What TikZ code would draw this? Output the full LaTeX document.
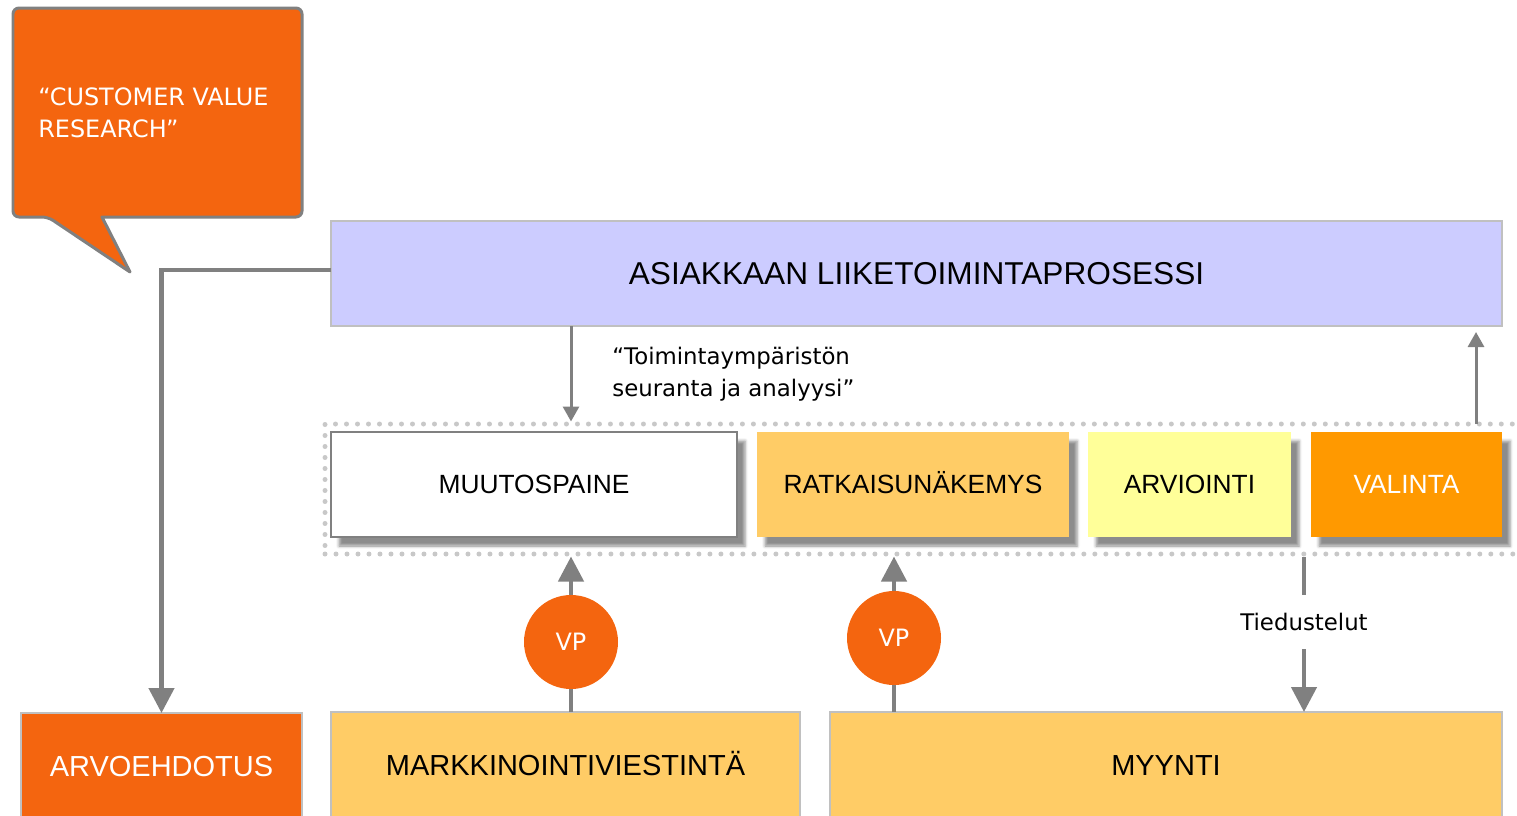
\documentclass[tikz,border=0pt]{standalone}
\usepackage{fontspec}
\setmainfont{Liberation Sans}
\newfontfamily\tahoma{DejaVu Sans}
\usetikzlibrary{arrows.meta,shadows.blur,positioning}

\definecolor{vporange}{HTML}{F4650F}
\definecolor{lavender}{HTML}{CCCCFF}
\definecolor{gold}{HTML}{FFCC66}
\definecolor{paleyellow}{HTML}{FFFF99}
\definecolor{amber}{HTML}{FF9900}
\definecolor{linegray}{HTML}{808080}
\definecolor{edgegray}{HTML}{C0C0C0}
\definecolor{dotgray}{HTML}{C8C8C8}

\def\px{0.02cm}
\def\boxh{105}

\begin{document}
\begin{tikzpicture}[
    x=\px, y=-\px,
    lane/.style={rectangle,draw=edgegray,line width=0.04cm,inner sep=0pt,outer sep=0pt,
                 minimum height=\boxh*\px,text height=10.8pt,text depth=0pt,
                 font=\fontsize{15}{18}\selectfont},
    stage/.style={lane,blur shadow={shadow xshift=0.16cm,shadow yshift=-0.18cm,
                 shadow blur radius=0.06cm,shadow opacity=45}},
    unit/.style={lane,minimum height=106*\px,text height=11.9pt,
                 font=\fontsize{16.5}{20}\selectfont},
    frame/.style={draw=dotgray,line width=0.1cm,dash pattern=on 0pt off 0.22cm,
                  line cap=round,inner sep=0pt},
    vp/.style={circle,fill=vporange,minimum size=94*\px,inner sep=0pt,text=white,
               font=\tahoma\fontsize{13.6}{16}\selectfont},
    note/.style={inner sep=0pt,align=left,font=\tahoma\fontsize{13}{18}\selectfont},
    bubble/.style={fill=vporange,draw=linegray,line width=0.06cm,line join=round},
    conn/.style={draw=linegray,line width=0.09cm},
    thinconn/.style={draw=linegray,line width=0.06cm},
    bigtip/.style={-{Triangle[width=0.5cm,length=0.5cm]}},
    smalltip/.style={-{Triangle[width=0.32cm,length=0.3cm]}},
]
\useasboundingbox (0,0) rectangle (1517,815);

% speech bubble
\draw[bubble] (48,217) -- (130,272) -- (102,217) [rounded corners=0.12cm]
              -- (302,217) -- (302,8) -- (13,8) -- (13,217) -- cycle;
\node[note,anchor=west,text=white,font=\tahoma\fontsize{13.6}{18}\selectfont]
    (cvr) at (38,113) {“CUSTOMER VALUE\\RESEARCH”};

% customer process
\node[lane,fill=lavender,minimum width=1171*\px,text height=12.9pt,
      font=\fontsize{18}{22}\selectfont]
    (asiakas) at (916.5,273.5) {ASIAKKAAN LIIKETOIMINTAPROSESSI};

% buying stages
\node[frame,minimum width=1205*\px,minimum height=130*\px] (frame) at (927.5,489) {};
\node[stage,fill=white,draw=linegray,minimum width=406*\px] (muutos) at (534,484.5) {MUUTOSPAINE};
\node[stage,fill=gold,draw=none,minimum width=312*\px,right=0.4cm of muutos] (ratkaisu) {RATKAISUNÄKEMYS};
\node[stage,fill=paleyellow,draw=none,minimum width=203*\px,right=0.38cm of ratkaisu] (arviointi) {ARVIOINTI};
\node[stage,fill=amber,draw=none,text=white,minimum width=191*\px,right=0.4cm of arviointi] (valinta) {VALINTA};

\node[note,anchor=west] (seuranta) at (612,374) {“Toimintaympäristön\\seuranta ja analyysi”};

% own functions
\node[unit,fill=vporange,text=white,minimum width=281*\px] (arvo) at (161.5,766) {ARVOEHDOTUS};
\node[unit,fill=gold,minimum width=469*\px] (markk) at (565.5,765) {MARKKINOINTIVIESTINTÄ};
\node[unit,fill=gold,minimum width=672*\px] (myynti) at (1166,765) {MYYNTI};

\node[vp] (vp1) at (571,642) {VP};
\node[vp] (vp2) at (894,638) {VP};
\node[note,inner ysep=0.36cm] (tied) at (1304,622) {Tiedustelut};
\coordinate (pick) at (1476,424);

% connectors
\draw[conn,bigtip] ([yshift=0.07cm]asiakas.west) -| (arvo.north);
\draw[thinconn,smalltip] (asiakas.south -| vp1) -- (frame.north -| vp1);
\draw[thinconn,smalltip,shorten >=0.12cm] (pick) -- (pick |- asiakas.south);
\draw[conn] (markk.north -| vp1) -- (vp1.south);
\draw[conn,bigtip] (vp1.north) -- (frame.south -| vp1);
\draw[conn] (myynti.north -| vp2) -- (vp2.south);
\draw[conn,bigtip] (vp2.north) -- (frame.south -| vp2);
\draw[conn] (frame.south -| tied) -- (tied.north);
\draw[conn,bigtip] (tied.south) -- (myynti.north -| tied);

\end{tikzpicture}
\end{document}
